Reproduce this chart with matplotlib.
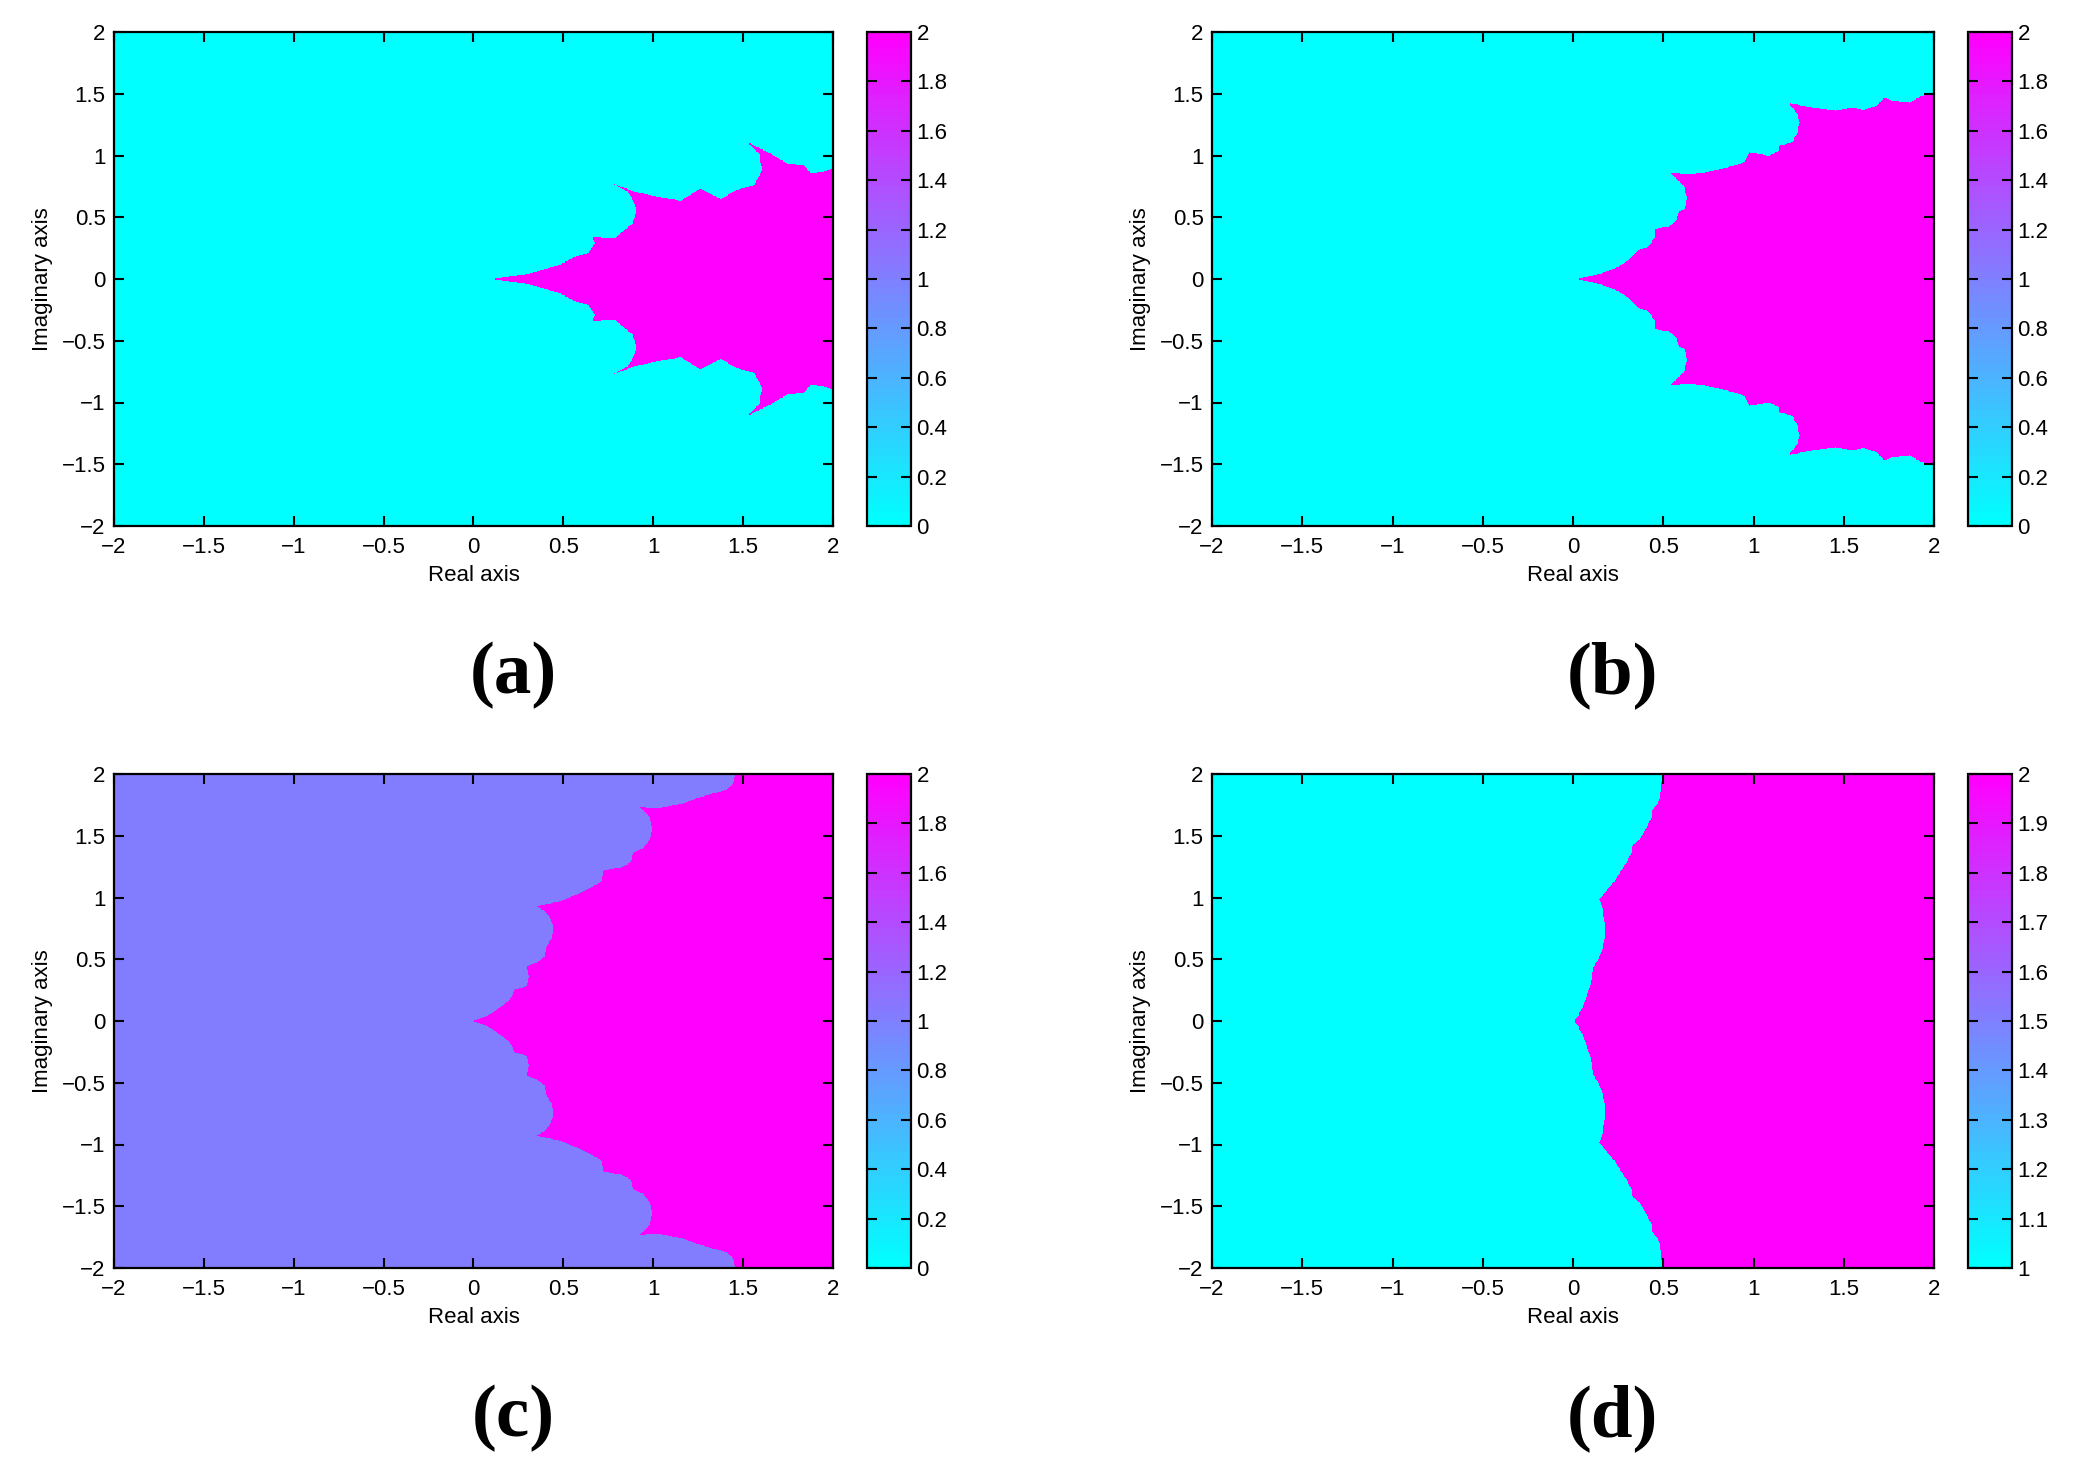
import matplotlib
matplotlib.use("Agg")
import matplotlib.pyplot as plt
import numpy as np
from matplotlib.path import Path
from matplotlib.colors import ListedColormap

plt.rcParams['font.family'] = ['Liberation Sans', 'DejaVu Sans']

# upper half of each basin boundary (real, imag);
# the lower half is the mirror image
bnd_a_re = [0.109, 0.307, 0.473, 0.556, 0.639, 0.676, 0.663, 0.787, 0.842, 0.888, 0.907,
            0.888, 0.861, 0.777, 0.897, 1.045, 1.156, 1.263, 1.378, 1.461, 1.562, 1.608,
            1.590, 1.525, 1.655, 1.747, 1.839, 1.876, 1.950, 2.0]
bnd_a_im = [0.0, 0.043, 0.110, 0.175, 0.210, 0.290, 0.339, 0.331, 0.398, 0.452, 0.559,
            0.640, 0.707, 0.774, 0.707, 0.661, 0.634, 0.734, 0.645, 0.720, 0.761, 0.882,
            1.016, 1.110, 1.016, 0.935, 0.922, 0.863, 0.868, 0.895]

bnd_b_re = [0.028, 0.158, 0.251, 0.307, 0.362, 0.418, 0.455, 0.455, 0.530, 0.576, 0.586,
            0.623, 0.632, 0.613, 0.539, 0.660, 0.771, 0.846, 0.929, 0.957, 0.976, 1.087,
            1.143, 1.143, 1.217, 1.245, 1.258, 1.245, 1.199, 1.329, 1.459, 1.552, 1.608,
            1.682, 1.729, 1.775, 1.868, 1.933, 2.0]
bnd_b_im = [0.0, 0.046, 0.099, 0.153, 0.234, 0.261, 0.341, 0.409, 0.422, 0.476, 0.543,
            0.570, 0.664, 0.758, 0.860, 0.852, 0.874, 0.901, 0.933, 0.960, 1.027, 1.000,
            1.040, 1.081, 1.108, 1.188, 1.269, 1.336, 1.425, 1.390, 1.363, 1.390, 1.368,
            1.403, 1.470, 1.444, 1.430, 1.484, 1.503]

bnd_c_re = [0.0, 0.074, 0.148, 0.204, 0.232, 0.297, 0.306, 0.297, 0.353, 0.399, 0.408,
            0.436, 0.442, 0.427, 0.399, 0.349, 0.482, 0.594, 0.668, 0.714, 0.724, 0.816,
            0.872, 0.891, 0.946, 0.983, 0.993, 0.980, 0.931, 1.039, 1.169, 1.262, 1.336,
            1.410, 1.447, 1.456]
bnd_c_im = [0.0, 0.040, 0.108, 0.175, 0.256, 0.283, 0.364, 0.445, 0.472, 0.526, 0.606,
            0.674, 0.768, 0.836, 0.889, 0.930, 0.970, 1.038, 1.092, 1.132, 1.226, 1.240,
            1.280, 1.361, 1.402, 1.469, 1.563, 1.658, 1.730, 1.725, 1.765, 1.814, 1.846,
            1.873, 1.927, 2.0]

bnd_d_re = [0.009, 0.028, 0.061, 0.083, 0.106, 0.111, 0.130, 0.157, 0.176, 0.176, 0.167,
            0.148, 0.185, 0.231, 0.259, 0.296, 0.324, 0.333, 0.370, 0.407, 0.435, 0.435,
            0.472, 0.487, 0.491, 0.5]
bnd_d_im = [0.0, 0.043, 0.137, 0.232, 0.340, 0.434, 0.474, 0.555, 0.663, 0.798, 0.892,
            0.987, 1.054, 1.135, 1.202, 1.283, 1.364, 1.431, 1.472, 1.566, 1.647, 1.701,
            1.768, 1.849, 1.930, 2.0]

# value left of the boundary, value right of it, colour limits, colourbar ticks
panels = [
    ('(a)', bnd_a_re, bnd_a_im, 0, 2, (0, 2), np.round(np.arange(0, 2.01, 0.2), 1)),
    ('(b)', bnd_b_re, bnd_b_im, 0, 2, (0, 2), np.round(np.arange(0, 2.01, 0.2), 1)),
    ('(c)', bnd_c_re, bnd_c_im, 1, 2, (0, 2), np.round(np.arange(0, 2.01, 0.2), 1)),
    ('(d)', bnd_d_re, bnd_d_im, 1, 2, (1, 2), np.round(np.arange(1, 2.01, 0.1), 1)),
]
axis_ticks = [-2, -1.5, -1, -0.5, 0, 0.5, 1, 1.5, 2]

cmap = ListedColormap(plt.get_cmap('cool')(np.linspace(0, 1, 64)))


def fmt(v):
    return f'{v:g}'.replace('-', '\u2212')


def basin_path(re, im):
    pts = list(zip(re, im))
    x_end, y_end = pts[-1]
    if x_end >= 2.0:
        pts += [(3.0, y_end)]
    else:
        pts += [(x_end, 3.0), (3.0, 3.0)]
    lower = [(x, -y) for x, y in pts[::-1]]
    return Path(pts + lower)


n = 900
gx = np.linspace(-2, 2, n)
gy = np.linspace(-2, 2, n)
GX, GY = np.meshgrid(gx, gy)
grid_pts = np.column_stack([GX.ravel(), GY.ravel()])

W, H = 2083, 1481
fig = plt.figure(figsize=(W / 100, H / 100), dpi=100)

ax_left = [114, 1212]
cb_left = [867, 1968]
row_top = [32, 774]
ax_w = [719, 722]
ax_h = 494
label_x = [513, 1612]
label_y = [675, 1418]

for i, (tag, re, im, lo, hi, lims, cticks) in enumerate(panels):
    r, c = i // 2, i % 2
    ax = fig.add_axes([ax_left[c] / W, 1 - (row_top[r] + ax_h) / H, ax_w[c] / W, ax_h / H])
    cax = fig.add_axes([cb_left[c] / W, 1 - (row_top[r] + ax_h) / H, 44 / W, ax_h / H])

    inside = basin_path(re, im).contains_points(grid_pts).reshape(GX.shape)
    vals = np.where(inside, hi, lo)
    im_obj = ax.imshow(vals, extent=[-2, 2, -2, 2], origin='lower', cmap=cmap,
                       vmin=lims[0], vmax=lims[1], interpolation='nearest', aspect='auto')
    ax.set_xlim(-2, 2)
    ax.set_ylim(-2, 2)
    ax.set_xticks(axis_ticks)
    ax.set_yticks(axis_ticks)
    ax.set_xticklabels([fmt(t) for t in axis_ticks])
    ax.set_yticklabels([fmt(t) for t in axis_ticks])
    ax.tick_params(direction='in', length=7, width=1.5, top=True, right=True,
                   labelsize=16, pad=6)
    ax.tick_params(axis='x', pad=8)
    for s in ax.spines.values():
        s.set_linewidth(1.6)
    ax.set_xlabel('Real axis', fontsize=16, labelpad=5)
    ax.set_ylabel('Imaginary axis', fontsize=16, labelpad=6)

    cb = fig.colorbar(im_obj, cax=cax)
    cb.set_ticks(cticks)
    cb.set_ticklabels([fmt(t) for t in cticks])
    cax.yaxis.set_ticks_position('both')
    cax.tick_params(direction='in', length=7, width=1.5, labelsize=16, pad=4,
                    left=True, right=True, labelleft=False, labelright=True)
    cb.outline.set_linewidth(1.6)

    fig.text(label_x[c] / W, 1 - label_y[r] / H, tag, ha='center', va='center',
             fontsize=54, fontweight='bold', family=['Liberation Serif', 'DejaVu Serif'])

fig.savefig('out.png', dpi=100, facecolor='white')
